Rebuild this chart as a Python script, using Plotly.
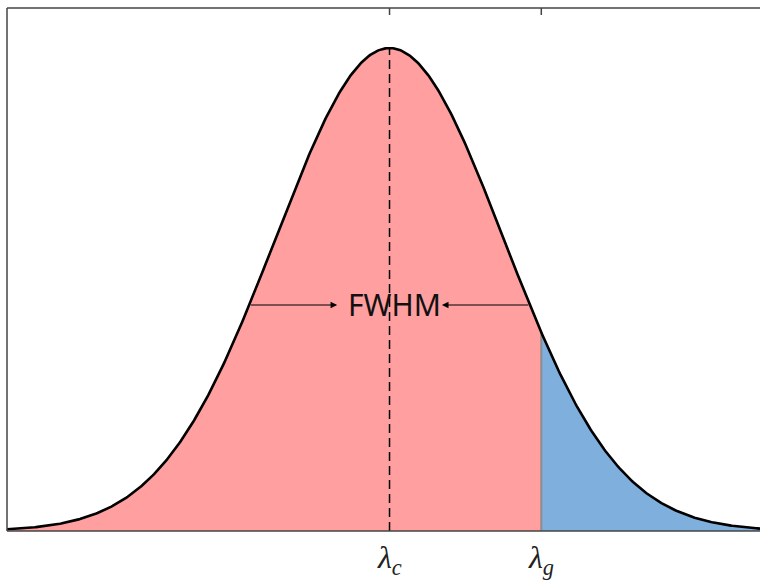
import numpy as np
import plotly.graph_objects as go

# --- chart values ---
center = 0.0          # lambda_c (in units of sigma)
sigma = 1.0
peak = 1.0
lambda_g = 1.333
x_min, x_max = -3.36, 3.254
y_max = 1.083
tick_vals = [center, lambda_g]
tick_text = ["<i>λ</i><sub><i>c</i></sub>", "<i>λ</i><sub><i>g</i></sub>"]
fwhm_label = "FWHM"
fwhm_level = 0.468
fwhm_head_offset = 0.46

def gauss(x):
    return peak * np.exp(-((x - center) ** 2) / (2 * sigma ** 2))

x_left = np.linspace(x_min, lambda_g, 400)
x_right = np.linspace(lambda_g, x_max, 200)
x_all = np.linspace(x_min, x_max, 600)

red = "rgb(255,159,159)"
blue = "rgb(127,176,221)"
axis_col = "#444"

fig = go.Figure()
fig.add_trace(go.Scatter(x=x_left, y=gauss(x_left), fill="tozeroy", fillcolor=red,
                         mode="none", hoverinfo="skip", showlegend=False))
fig.add_trace(go.Scatter(x=x_right, y=gauss(x_right), fill="tozeroy", fillcolor=blue,
                         mode="none", hoverinfo="skip", showlegend=False))
# separator at lambda_g
fig.add_trace(go.Scatter(x=[lambda_g, lambda_g], y=[0, gauss(lambda_g)], mode="lines",
                         line=dict(color="rgb(140,140,140)", width=2),
                         hoverinfo="skip", showlegend=False))
# dashed center line
fig.add_trace(go.Scatter(x=[center, center], y=[0, peak], mode="lines",
                         line=dict(color="black", width=1.5, dash="9px,5px"),
                         hoverinfo="skip", showlegend=False))
# curve
fig.add_trace(go.Scatter(x=x_all, y=gauss(x_all), mode="lines",
                         line=dict(color="black", width=2.6),
                         hoverinfo="skip", showlegend=False))

half_w = sigma * np.sqrt(-2 * np.log(fwhm_level / peak))
for tail, head in [(center - half_w, center - fwhm_head_offset),
                   (center + half_w, center + fwhm_head_offset)]:
    fig.add_annotation(x=head, y=fwhm_level, ax=tail, ay=fwhm_level,
                       xref="x", yref="y", axref="x", ayref="y",
                       text="", showarrow=True, arrowhead=2, arrowsize=1.1,
                       arrowwidth=1.2, arrowcolor="black")
fig.add_annotation(x=center + 0.04, y=fwhm_level, xref="x", yref="y", text=fwhm_label,
                   showarrow=False, font=dict(family="Noto Sans", size=30, color="#111"))

# tick labels below and inward tick marks on top edge
for v, t in zip(tick_vals, tick_text):
    fig.add_annotation(x=v, y=0, xref="x", yref="paper", text=t, showarrow=False,
                       xanchor="center", yanchor="top", yshift=-6,
                       font=dict(family="Liberation Serif", size=32, color="#222"))
    fig.add_shape(type="line", xref="x", yref="paper", x0=v, x1=v, y0=1, y1=1 - 7 / 523,
                  line=dict(color=axis_col, width=1.5))

# frame: left, top, bottom (no right edge)
for (x0, y0, x1, y1) in [(0, 0, 0, 1), (0, 1, 1, 1), (0, 0, 1, 0)]:
    fig.add_shape(type="line", xref="paper", yref="paper", x0=x0, y0=y0, x1=x1, y1=y1,
                  line=dict(color=axis_col, width=1.5))

fig.update_layout(
    width=760, height=583,
    margin=dict(l=7, r=0, t=8, b=52, pad=0, autoexpand=False),
    paper_bgcolor="white", plot_bgcolor="white",
    dragmode=False,
    xaxis=dict(range=[x_min, x_max], showticklabels=False, automargin=False,
               showgrid=False, zeroline=False, showline=False, ticks="", fixedrange=True),
    yaxis=dict(range=[0, y_max], showticklabels=False, ticks="", showgrid=False,
               automargin=False, zeroline=False, showline=False, fixedrange=True),
)

fig.write_html("out.html", config={"displayModeBar": False, "staticPlot": True})
